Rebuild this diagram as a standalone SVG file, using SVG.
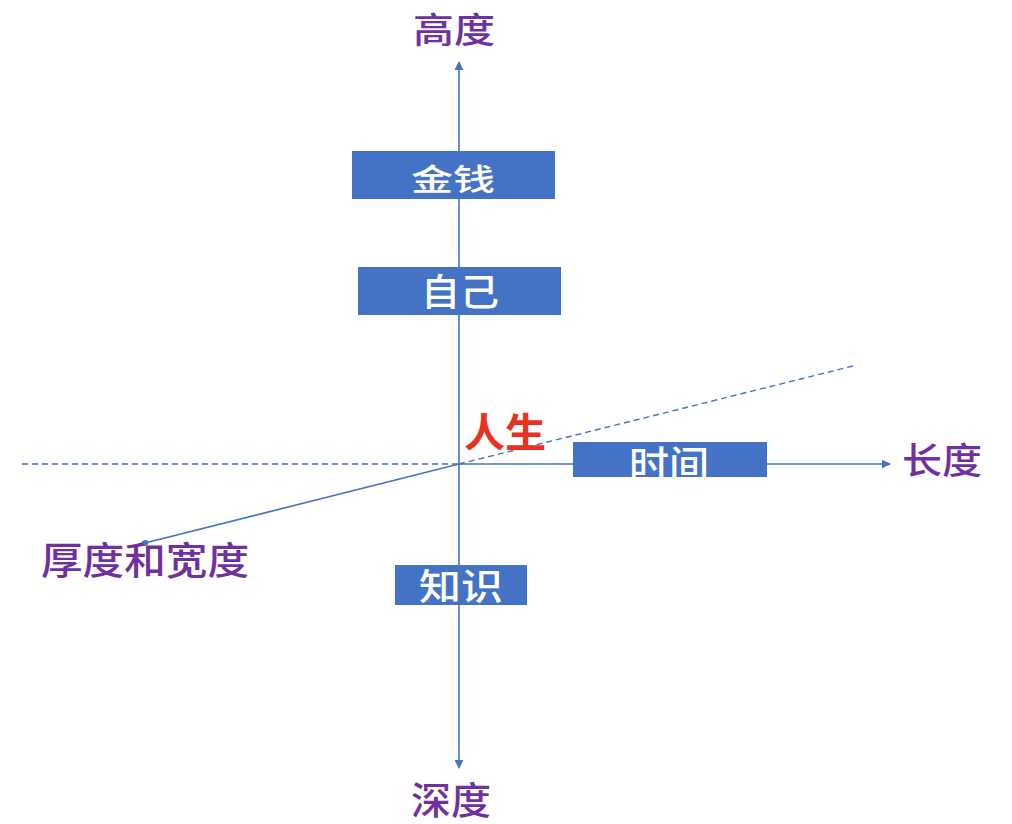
<svg xmlns="http://www.w3.org/2000/svg" width="1012" height="824" viewBox="0 0 1012 824">
<style>
.ax{stroke:#4472C4;stroke-width:1.6;fill:none}
.dash{stroke:#4472C4;stroke-width:1.4;fill:none;stroke-dasharray:6 4}
.box{fill:#4472C4}
.bt{fill:#fff;font-family:"Noto Sans CJK SC",sans-serif;font-weight:500;text-anchor:middle}
.lab{fill:#7030A0;font-family:"Noto Sans CJK SC",sans-serif;font-size:38px;font-weight:500;text-anchor:middle}
</style>
<defs>
<marker id="arr" viewBox="0 0 10 10" refX="9" refY="5" markerWidth="9" markerHeight="9" markerUnits="userSpaceOnUse" orient="auto">
<path d="M0,0 L10,5 L0,10 z" fill="#4472C4"/>
</marker>
<marker id="dot" viewBox="0 0 10 10" refX="5" refY="5" markerWidth="7" markerHeight="7" markerUnits="userSpaceOnUse" orient="auto">
<ellipse cx="5" cy="5" rx="5" ry="4" fill="#4472C4"/>
</marker>
</defs>
<rect width="1012" height="824" fill="#fff"/>
<g id="connectors">
<line class="dash" x1="22" y1="464" x2="459" y2="464"/>
<line class="dash" x1="459" y1="464" x2="857" y2="365"/>
<line class="ax" x1="459" y1="464" x2="145" y2="543" marker-end="url(#dot)"/>
<line class="ax" x1="459" y1="464" x2="890" y2="464" marker-end="url(#arr)"/>
<line class="ax" x1="459" y1="464" x2="459" y2="62" marker-end="url(#arr)"/>
<line class="ax" x1="459" y1="464" x2="459" y2="768" marker-end="url(#arr)"/>
</g>
<g id="n-jinqian"><rect class="box" x="352" y="151" width="203" height="48"/><text class="bt" x="453" y="190" style="font-size:30px" textLength="84" lengthAdjust="spacingAndGlyphs">金钱</text></g>
<g id="n-ziji"><rect class="box" x="358" y="267" width="203" height="48"/><text class="bt" x="460" y="306" style="font-size:37px" textLength="78" lengthAdjust="spacingAndGlyphs">自己</text></g>
<g id="n-shijian"><rect class="box" x="573" y="442" width="194" height="35"/><text class="bt" x="669" y="478" style="font-size:38px" textLength="80" lengthAdjust="spacingAndGlyphs">时间</text></g>
<g id="n-zhishi"><rect class="box" x="395" y="565" width="132" height="40"/><text class="bt" x="461" y="600" style="font-size:36px" textLength="84" lengthAdjust="spacingAndGlyphs">知识</text></g>
<g id="n-gaodu"><text class="lab" x="454" y="43" style="font-size:35px" textLength="82" lengthAdjust="spacingAndGlyphs">高度</text></g>
<g id="n-shendu"><text class="lab" x="451" y="814" textLength="80" lengthAdjust="spacingAndGlyphs">深度</text></g>
<g id="n-changdu"><text class="lab" x="942" y="474" style="font-size:36px" textLength="80" lengthAdjust="spacingAndGlyphs">长度</text></g>
<g id="n-houdu"><text class="lab" x="145" y="574" textLength="208" lengthAdjust="spacingAndGlyphs">厚度和宽度</text></g>
<g id="n-rensheng"><text x="505" y="447" text-anchor="middle" textLength="82" lengthAdjust="spacingAndGlyphs" style="fill:#E8321E;font-family:'Noto Sans CJK SC',sans-serif;font-size:40px;font-weight:700">人生</text></g>
</svg>
